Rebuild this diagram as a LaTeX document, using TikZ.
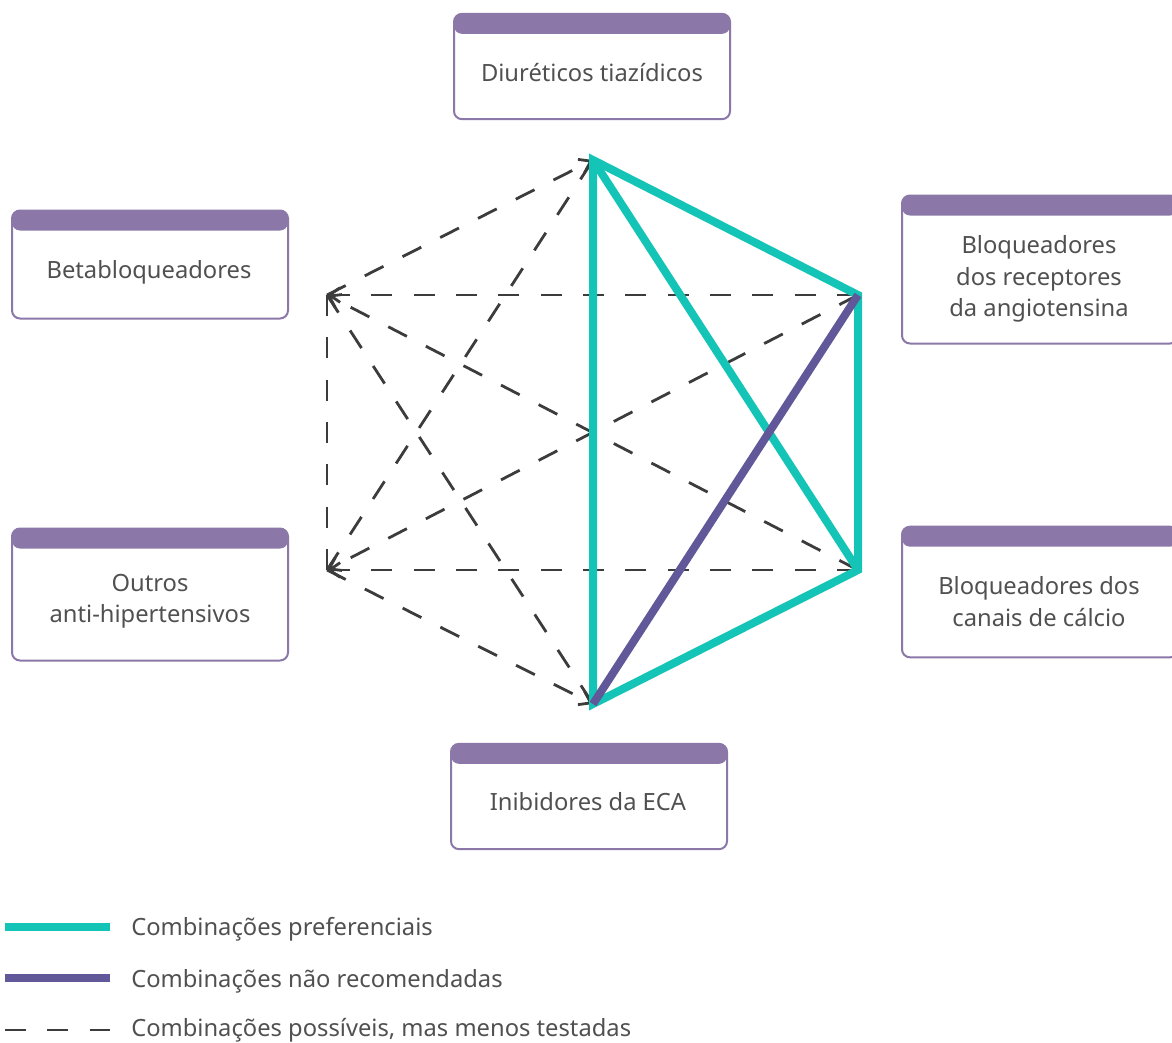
\documentclass[tikz,border=0pt]{standalone}
\usepackage{fontspec}
\setmainfont{Noto Sans}
\usetikzlibrary{arrows.meta}
\usetikzlibrary{calc}

\definecolor{prefcol}{RGB}{20,196,182}
\definecolor{notreccol}{RGB}{96,88,152}
\definecolor{boxcol}{RGB}{139,120,168}
\definecolor{txtcol}{RGB}{80,80,80}
\definecolor{dashcol}{RGB}{60,60,60}

\begin{document}
\begin{tikzpicture}[x=0.75pt,y=0.75pt,yscale=-1,xscale=1,
  drugbox/.style={draw=boxcol, line width=1.5pt, rounded corners=6pt, minimum width=207pt, inner sep=0pt,
    path picture={\fill[boxcol] (path picture bounding box.north west) rectangle ($(path picture bounding box.north east)!15pt!(path picture bounding box.south east)$);}},
  drugtxt/.style={text=txtcol, font=\fontsize{17.8}{23.5}\selectfont, align=center, inner sep=0pt},
  pref/.style={draw=prefcol, line width=6pt},
  notrec/.style={draw=notreccol, line width=6pt},
  maybe/.style={draw=dashcol, line width=2.1pt, dash pattern=on 15.75pt off 16pt},
  maybearr/.style={maybe, -{Straight Barb[length=8pt,width=11pt]}}
]
\useasboundingbox (0,0) rectangle (1172,1043);

%Corners of the hexagon
\coordinate (top) at (593,160);
\coordinate (ur) at (858,295);
\coordinate (lr) at (858,570);
\coordinate (bot) at (593,704);
\coordinate (ll) at (327,570);
\coordinate (ul) at (327,295);

%Boxes
\node[drugbox, minimum height=79pt] (diur) at (592,66.5) {};
\node[drugbox, minimum height=81pt] (beta) at (150,264.5) {};
\node[drugbox, minimum height=99pt] (outros) at (150,594.5) {};
\node[drugbox, minimum height=111pt] (bra) at (1040,269.5) {};
\node[drugbox, minimum height=98pt] (bcc) at (1040,592) {};
\node[drugbox, minimum height=79pt] (ieca) at (589,796.5) {};

%Box texts
\node[drugtxt] (diurtxt) at (592,73) {Diuréticos tiazídicos};
\node[drugtxt] (betatxt) at (149,272.5) {Betabloqueadores};
\node[drugtxt] (outrostxt) at (150,601.5) {Outros\\anti-hipertensivos};
\node[drugtxt] (bratxt) at (1039,279) {Bloqueadores\\dos receptores\\da angiotensina};
\node[drugtxt] (bcctxt) at (1039,601.5) {Bloqueadores dos\\canais de cálcio};
\node[drugtxt] (iecatxt) at (588,802) {Inibidores da ECA};

%Possible combinations
\draw[maybearr] (ur) -- (ul);
\draw[maybearr] (lr) -- (ul);
\draw[maybearr] (ul) -- (top);
\draw[maybe] (ll) -- (top);
\draw[maybe] (ul) -- (bot);
\draw[maybe] (ul) -- (ll);
\draw[maybearr] (lr) -- (ll);
\draw[maybearr] (ur) -- (ll);
\draw[maybearr] (ll) -- (bot);

%Preferred combinations
\draw[pref] (top) -- (ur) -- (lr) -- (bot) -- cycle;
\draw[pref] (top) -- (lr);

%Not recommended
\draw[notrec] (ur) -- (bot);

%Legend
\coordinate (prefa) at (5,927);
\coordinate (prefb) at (110,927);
\coordinate (notreca) at (5,978);
\coordinate (notrecb) at (110,978);
\coordinate (maybea) at (5,1030);
\coordinate (maybeb) at (110,1030);
\draw[pref] (prefa) -- (prefb);
\draw[notrec] (notreca) -- (notrecb);
\draw[maybe] (maybea) -- (maybeb);
\node[drugtxt, anchor=west] (preftxt) at (131,929) {Combinações preferenciais};
\node[drugtxt, anchor=west] (notrectxt) at (131,981) {Combinações não recomendadas};
\node[drugtxt, anchor=west] (maybetxt) at (131,1030.5) {Combinações possíveis, mas menos testadas};

\end{tikzpicture}
\end{document}
